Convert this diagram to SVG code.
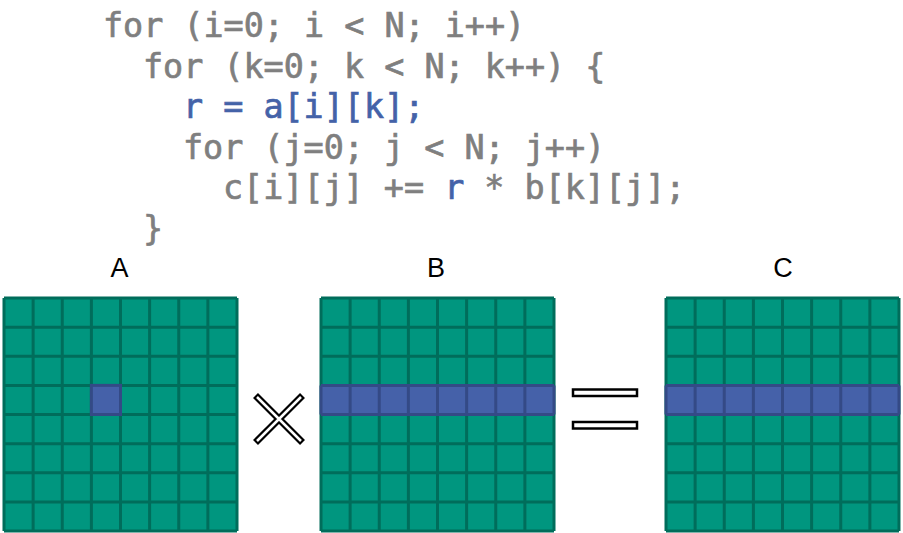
<svg xmlns="http://www.w3.org/2000/svg" xmlns:xlink="http://www.w3.org/1999/xlink" width="903" height="533" viewBox="0 0 903 533">
<style>
.code{font-family:"DejaVu Sans Mono","Liberation Mono",monospace;font-size:33.4px;fill:#7F7F7F;stroke:#7F7F7F;stroke-width:0.7}
.hl{fill:#4462A8;stroke:#4462A8}
.lbl{font-family:"Liberation Sans",Arial,sans-serif;font-size:27px;fill:#000;text-anchor:middle}
.cellbg{fill:#00967F}
.grid{fill:none;stroke:#006D5B;stroke-width:3}
.blue{fill:#4561A9}
.bgrid{fill:none;stroke:#344A86;stroke-width:3}
</style>
<defs>
<path id="gridlines" d="M0,0V233M29.125,0V233M58.25,0V233M87.375,0V233M116.5,0V233M145.625,0V233M174.75,0V233M203.875,0V233M233,0V233M0,0H233M0,29.125H233M0,58.25H233M0,87.375H233M0,116.5H233M0,145.625H233M0,174.75H233M0,203.875H233M0,233H233"/>
<path id="rowlines" d="M0,0V29.125M29.125,0V29.125M58.25,0V29.125M87.375,0V29.125M116.5,0V29.125M145.625,0V29.125M174.75,0V29.125M203.875,0V29.125M233,0V29.125M0,0H233M0,29.125H233"/>
</defs>
<g id="code">
<text class="code" x="103" y="37">for (i=0; i &lt; N; i++)</text>
<text class="code" x="143" y="78">for (k=0; k &lt; N; k++) {</text>
<text class="code hl" x="183" y="118">r = a[i][k];</text>
<text class="code" x="183" y="159">for (j=0; j &lt; N; j++)</text>
<text class="code" x="223" y="199">c[i][j] += <tspan class="hl">r</tspan> * b[k][j];</text>
<text class="code" x="143" y="240">}</text>
</g>
<g id="matrixA" transform="translate(4,298)">
<rect class="cellbg" width="233" height="233"/>
<use xlink:href="#gridlines" class="grid"/>
<rect class="blue" x="87.375" y="87.375" width="29.125" height="29.125"/>
<rect class="bgrid" x="87.375" y="87.375" width="29.125" height="29.125"/>
<text class="lbl" x="115.5" y="-21">A</text>
</g>
<g id="matrixB" transform="translate(321,298)">
<rect class="cellbg" width="233" height="233"/>
<use xlink:href="#gridlines" class="grid"/>
<rect class="blue" x="0" y="87.375" width="233" height="29.125"/>
<use xlink:href="#rowlines" class="bgrid" y="87.375"/>
<text class="lbl" x="115" y="-21">B</text>
</g>
<g id="matrixC" transform="translate(666,298)">
<rect class="cellbg" width="233" height="233"/>
<use xlink:href="#gridlines" class="grid"/>
<rect class="blue" x="0" y="87.375" width="233" height="29.125"/>
<use xlink:href="#rowlines" class="bgrid" y="87.375"/>
<text class="lbl" x="117" y="-21">C</text>
</g>
<g id="times">
<path d="M255.5,395.5L302.5,442.5M302.5,395.5L255.5,442.5" stroke="#000" stroke-width="7" fill="none"/>
<path d="M257,397L301,441M301,397L257,441" stroke="#fff" stroke-width="2.5" fill="none"/>
</g>
<g id="equals">
<rect x="573" y="389.5" width="64" height="6.5" fill="#fff" stroke="#000" stroke-width="2.5"/>
<rect x="573" y="422" width="64" height="6.5" fill="#fff" stroke="#000" stroke-width="2.5"/>
</g>
<g id="connectors"/>
</svg>
